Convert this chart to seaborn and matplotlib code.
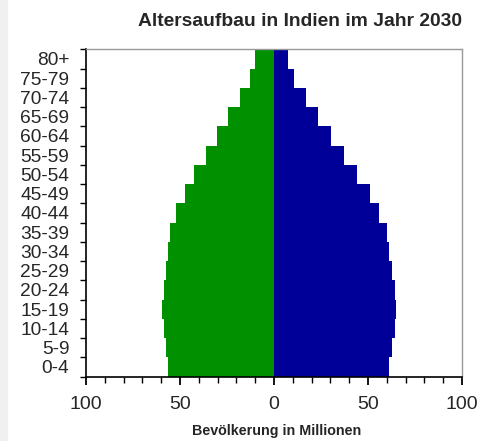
import numpy as np
import pandas as pd
import seaborn as sns
import matplotlib.pyplot as plt
from matplotlib.ticker import MultipleLocator, FixedLocator, FuncFormatter
from matplotlib.patches import Rectangle

# age groups, top to bottom as in the chart
age_groups = ['80+', '75-79', '70-74', '65-69', '60-64', '55-59', '50-54',
              '45-49', '40-44', '35-39', '30-34', '25-29', '20-24', '15-19',
              '10-14', '5-9', '0-4']
# population in millions
left_green = [10.3, 12.6, 18.2, 24.6, 30.3, 36.0, 42.3, 47.3, 52.3,
              55.1, 56.5, 57.2, 58.7, 59.4, 58.7, 57.2, 56.5]
right_blue = [7.6, 10.4, 16.8, 23.2, 30.3, 37.4, 44.3, 50.9, 55.8,
              59.9, 61.3, 62.7, 64.1, 64.9, 64.1, 62.7, 61.3]

title = 'Altersaufbau in Indien im Jahr 2030'
xlabel = 'Bevölkerung in Millionen'

sns.set_style('white')
plt.rcParams['font.family'] = ['Liberation Sans', 'DejaVu Sans']

df = pd.DataFrame({'age': age_groups,
                   'green': [-v for v in left_green],
                   'blue': right_blue})

fig = plt.figure(figsize=(4.81, 4.41), dpi=100)
fig.patches.append(Rectangle((0, 0), 7 / 481, 1, transform=fig.transFigure,
                             color='#f0f0f0', zorder=0))
ax = fig.add_axes([86 / 481, 1 - 376.5 / 441, 376 / 481, 327.2 / 441])

sns.barplot(data=df, x='green', y='age', order=age_groups, orient='h',
            color='#009000', saturation=1, width=1, linewidth=0, ax=ax)
sns.barplot(data=df, x='blue', y='age', order=age_groups, orient='h',
            color='#000099', saturation=1, width=1, linewidth=0, ax=ax)

ax.set_xlim(-100, 100)
ax.set_ylim(len(age_groups) - 0.5, -0.5)
ax.set_xticks([-100, -50, 0, 50, 100])
ax.xaxis.set_major_formatter(FuncFormatter(lambda v, p: f'{abs(int(v))}'))
ax.xaxis.set_minor_locator(MultipleLocator(10))
ax.yaxis.set_minor_locator(FixedLocator(np.arange(-0.5, len(age_groups), 1)))

ax.tick_params(axis='x', which='major', direction='out', length=6, width=1.3,
               labelsize=14, pad=8, bottom=True, color='black')
ax.tick_params(axis='x', which='minor', direction='out', length=4, width=1,
               bottom=True, color='black')
ax.tick_params(axis='y', which='major', length=0, labelsize=13.8, pad=12)
ax.tick_params(axis='y', which='minor', direction='out', length=4.5,
               width=1, left=True, color='black')

for s in ['top', 'right']:
    ax.spines[s].set_color('#999999')
    ax.spines[s].set_linewidth(1)
for s in ['left', 'bottom']:
    ax.spines[s].set_color('black')
    ax.spines[s].set_linewidth(1.2)

ax.set_xlabel('')
ax.set_ylabel('')
fig.text(462 / 481, 1 - 22 / 441, title, ha='right', va='center',
         fontsize=13.9, fontweight='bold')
fig.text(277 / 481, 1 - 431 / 441, xlabel, ha='center', va='center',
         fontsize=10.3, fontweight='bold')

fig.savefig('out.png', dpi=100, facecolor='white')
